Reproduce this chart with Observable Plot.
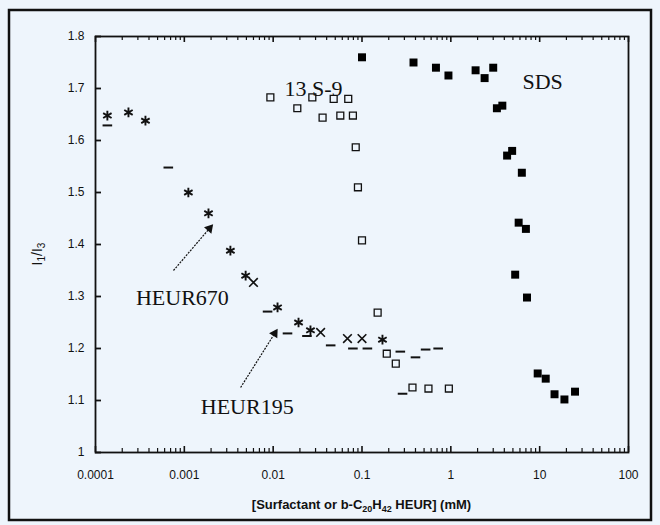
<!DOCTYPE html>
<html><head><meta charset="utf-8">
<script src="https://cdn.jsdelivr.net/npm/d3@7"></script>
<script src="https://cdn.jsdelivr.net/npm/@observablehq/plot@0.6"></script>
<style>html,body{margin:0;padding:0;background:#eef5fc;} svg{display:block}</style>
</head><body><div id="chart"></div>
<script>
// ---- data ----
const xTicks = [0.0001, 0.001, 0.01, 0.1, 1, 10, 100];
const xTickLabels = ["0.0001", "0.001", "0.01", "0.1", "1", "10", "100"];
const yTicks = [1, 1.1, 1.2, 1.3, 1.4, 1.5, 1.6, 1.7, 1.8];
const yTickLabels = ["1", "1.1", "1.2", "1.3", "1.4", "1.5", "1.6", "1.7", "1.8"];

const sdsX = [0.1, 0.38, 0.68, 0.94, 1.9, 2.4, 3.0, 3.3, 3.8, 4.3, 4.9, 6.3, 5.8, 7.0, 5.3, 7.2, 9.5, 11.7, 14.7, 19, 25];
const sdsY = [1.76, 1.75, 1.74, 1.725, 1.735, 1.72, 1.74, 1.662, 1.667, 1.571, 1.58, 1.538, 1.442, 1.43, 1.342, 1.298, 1.152, 1.142, 1.112, 1.102, 1.117];

const s9X = [0.0093, 0.0187, 0.0276, 0.036, 0.048, 0.07, 0.057, 0.079, 0.085, 0.09, 0.1, 0.15, 0.19, 0.24, 0.37, 0.56, 0.95];
const s9Y = [1.683, 1.662, 1.683, 1.644, 1.68, 1.68, 1.648, 1.648, 1.587, 1.51, 1.408, 1.269, 1.19, 1.171, 1.125, 1.123, 1.123];

const heur670X = [0.000136, 0.000235, 0.000365, 0.00111, 0.00187, 0.0033, 0.0049, 0.0112, 0.0193, 0.0263, 0.17];
const heur670Y = [1.648, 1.654, 1.638, 1.5, 1.46, 1.388, 1.34, 1.279, 1.25, 1.235, 1.217];

const heur195X = [0.000136, 0.00066, 0.00865, 0.0145, 0.024, 0.0444, 0.079, 0.115, 0.27, 0.4, 0.52, 0.72, 0.286];
const heur195Y = [1.629, 1.548, 1.271, 1.229, 1.224, 1.206, 1.2, 1.2, 1.194, 1.183, 1.198, 1.2, 1.113];

const heur195xX = [0.006, 0.0342, 0.0686, 0.1];
const heur195xY = [1.327, 1.231, 1.219, 1.219];

const labelText = ["HEUR670", "HEUR195", "SDS", "13 S-9"];
const labelX = [0.00095, 0.0051, 10.8, 0.0285];
const labelY = [1.298, 1.087, 1.712, 1.70];

const arrowX1 = [0.000755, 0.0043];
const arrowY1 = [1.35, 1.125];
const arrowX2 = [0.00192, 0.0104];
const arrowY2 = [1.431, 1.229];

// ---- helpers ----
const rows = (xs, ys) => xs.map((x, i) => ({x, y: ys[i]}));
const minorX = d3.range(-4, 2).flatMap(e => d3.range(2, 10).map(m => m * Math.pow(10, e)));
const arrows = arrowX1.map((x1, i) => ({x1, y1: arrowY1[i], x2: arrowX2[i], y2: arrowY2[i]}));
const labels = labelText.map((t, i) => ({t, x: labelX[i], y: labelY[i]}));

const W = 660, H = 525, mL = 95, mR = 32, mT = 36, mB = 73;
const innerW = W - mL - mR, innerH = H - mT - mB;
const base = {
  width: W, height: H, marginLeft: mL, marginRight: mR, marginTop: mT, marginBottom: mB,
  x: {type: "log", domain: [1e-4, 100]},
  y: {domain: [1, 1.8]}
};
const probe = Plot.plot({...base, marks: [Plot.frame()]});
const sx = probe.scale("x"), sy = probe.scale("y");
arrows.forEach(a => {
  const dx = sx.apply(a.x2) - sx.apply(a.x1);
  const dy = sy.apply(a.y2) - sy.apply(a.y1);
  a.angle = Math.atan2(dx, -dy) * 180 / Math.PI;
});

const dash = {draw(ctx, size) { const h = Math.sqrt(size / Math.PI) * 1.2; ctx.moveTo(-h, 0); ctx.lineTo(h, 0); }};

const plot = Plot.plot({
  ...base,
  style: {background: "#eef5fc", fontFamily: "Liberation Sans, Arial, sans-serif", overflow: "visible"},
  marks: [
    Plot.frame({stroke: "#111", strokeWidth: 1.8}),
    // inward ticks
    Plot.tickX(xTicks, {x: d => d, insetTop: innerH - 6, stroke: "#111", strokeWidth: 1.6}),
    Plot.tickX(minorX, {x: d => d, insetTop: innerH - 4, stroke: "#111", strokeWidth: 1.2}),
    Plot.tickX(xTicks, {x: d => d, insetBottom: innerH - 6, stroke: "#111", strokeWidth: 1.6}),
    Plot.tickX(minorX, {x: d => d, insetBottom: innerH - 4, stroke: "#111", strokeWidth: 1.2}),
    Plot.tickY(yTicks, {y: d => d, insetRight: innerW - 6, stroke: "#111", strokeWidth: 1.8}),
    // tick labels
    Plot.axisX(xTicks, {anchor: "bottom", tickSize: 0, tickPadding: 18, fontSize: 12, fill: "#111",
      tickFormat: d => xTickLabels[xTicks.indexOf(d)], label: null}),
    Plot.axisY(yTicks, {anchor: "left", tickSize: 0, tickPadding: 11, fontSize: 12, fill: "#111",
      tickFormat: d => yTickLabels[yTicks.indexOf(d)], label: null}),
    // data
    Plot.dot(rows(s9X, s9Y), {x: "x", y: "y", symbol: "square", r: 3.9, stroke: "#111", strokeWidth: 1.3, fill: "none"}),
    Plot.dot(rows(sdsX, sdsY), {x: "x", y: "y", symbol: "square", r: 4.5, fill: "#000", stroke: "none"}),
    Plot.dot(rows(heur670X, heur670Y), {x: "x", y: "y", symbol: "asterisk", r: 4.6, stroke: "#111", strokeWidth: 1.9}),
    Plot.dot(rows(heur195X, heur195Y), {x: "x", y: "y", symbol: dash, r: 4, stroke: "#111", strokeWidth: 2}),
    Plot.dot(rows(heur195xX, heur195xY), {x: "x", y: "y", symbol: "times", r: 4, stroke: "#111", strokeWidth: 1.6}),
    // annotations
    Plot.link(arrows, {x1: "x1", y1: "y1", x2: "x2", y2: "y2", stroke: "#111", strokeWidth: 1.2, strokeDasharray: "2,1.2"}),
    Plot.dot(arrows, {x: "x2", y: "y2", symbol: "triangle", r: 3.6, rotate: "angle", fill: "#111", stroke: "none"}),
    Plot.text(labels, {x: "x", y: "y", text: "t", fontFamily: "Liberation Serif, Times New Roman, serif", fontSize: 22, fill: "#111"})
  ]
});

const svg = d3.select(plot);
// axis titles with sub-scripts
const xl = svg.append("text").attr("x", mL + innerW / 2).attr("y", 509).attr("text-anchor", "middle")
  .attr("font-size", 13).attr("font-weight", "bold").attr("fill", "#111");
xl.append("tspan").text("[Surfactant or b-C");
xl.append("tspan").attr("font-size", 9).attr("dy", 3).text("20");
xl.append("tspan").attr("dy", -3).text("H");
xl.append("tspan").attr("font-size", 9).attr("dy", 3).text("42");
xl.append("tspan").attr("dy", -3).text(" HEUR] (mM)");

const yl = svg.append("text").attr("transform", "translate(42,254) rotate(-90)").attr("text-anchor", "middle")
  .attr("font-size", 14).attr("fill", "#111");
yl.append("tspan").text("I");
yl.append("tspan").attr("font-size", 10).attr("dy", 3).text("1");
yl.append("tspan").attr("dy", -3).text("/I");
yl.append("tspan").attr("font-size", 10).attr("dy", 3).text("3");

// outer border
svg.append("rect").attr("x", 9).attr("y", 10).attr("width", 642).attr("height", 510)
  .attr("fill", "none").attr("stroke", "#111").attr("stroke-width", 2.5);

document.getElementById("chart").appendChild(plot);
</script>
</body></html>
